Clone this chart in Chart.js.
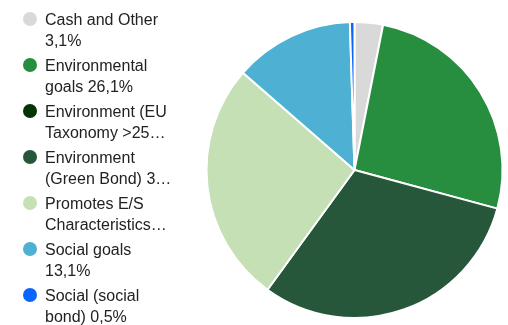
<!DOCTYPE html>
<html>
<head>
<meta charset="utf-8">
<script src="https://cdn.jsdelivr.net/npm/chart.js@4/dist/chart.umd.min.js"></script>
<style>
  html, body { margin: 0; padding: 0; background: #fff; }
  #wrap { position: relative; width: 508px; height: 325px; overflow: hidden; }
  #pie { position: absolute; left: 0; top: 0; }
  #legend { position: absolute; left: 0; top: 0; font-family: "Liberation Sans", Arial, sans-serif; font-size: 16px; color: #222; }
  .item { position: absolute; left: 0; }
  .dot { position: absolute; left: 23px; width: 14px; height: 14px; border-radius: 50%; }
  .txt { position: absolute; left: 45px; white-space: nowrap; line-height: 21px; }
</style>
</head>
<body>
<div id="wrap">
  <canvas id="pie" width="508" height="325"></canvas>
  <div id="legend"></div>
</div>
<script>
// Portfolio breakdown by investment objective (percent of assets)
const categories = [
  'Cash and Other',
  'Environmental goals',
  'Environment (EU Taxonomy >25%)',
  'Environment (Green Bond)',
  'Promotes E/S Characteristics',
  'Social goals',
  'Social (social bond)'
];
const shares = [3.1, 26.1, 0.0, 30.8, 26.4, 13.1, 0.5];

const sliceColors = ['#d9d9d9', '#278d3f', '#043305', '#26573a', '#c6e0b5', '#4eb0d3', '#0a64ff'];

const fmt = v => v.toFixed(1).replace('.', ',') + '%';

// Legend: wrap each label to two lines and end an overflowing second line with an ellipsis
const FONT = '16px "Liberation Sans", Arial, sans-serif';
const MAX_W = 130;
const mctx = document.createElement('canvas').getContext('2d');
mctx.font = FONT;
const w = s => mctx.measureText(s).width;

function wrapTwoLines(text) {
  const words = text.split(' ');
  let line1 = words[0];
  let i = 1;
  while (i < words.length && w(line1 + ' ' + words[i]) <= MAX_W) {
    line1 += ' ' + words[i];
    i++;
  }
  let rest = words.slice(i).join(' ');
  if (!rest) return [line1];
  if (w(rest) <= MAX_W) return [line1, rest];
  let cut = rest;
  while (cut.length && w(cut.trimEnd() + '\u2026') > MAX_W) cut = cut.slice(0, -1);
  return [line1, cut.trimEnd() + '\u2026'];
}

const legend = document.getElementById('legend');
const FIRST_TOP = 9, PITCH = 46;
categories.forEach((name, k) => {
  const item = document.createElement('div');
  item.className = 'item';
  item.style.top = (FIRST_TOP + k * PITCH) + 'px';
  const dot = document.createElement('div');
  dot.className = 'dot';
  dot.style.top = '3px';
  dot.style.background = sliceColors[k];
  const txt = document.createElement('div');
  txt.className = 'txt';
  txt.style.top = '0px';
  wrapTwoLines(name + ' ' + fmt(shares[k])).forEach(l => {
    const d = document.createElement('div');
    d.textContent = l;
    txt.appendChild(d);
  });
  item.appendChild(dot);
  item.appendChild(txt);
  legend.appendChild(item);
});

new Chart(document.getElementById('pie').getContext('2d'), {
  type: 'pie',
  data: {
    labels: categories,
    datasets: [{
      data: shares,
      backgroundColor: sliceColors,
      borderColor: '#ffffff',
      borderWidth: 2,
      hoverOffset: 0
    }]
  },
  options: {
    responsive: false,
    animation: false,
    events: [],
    layout: { padding: { left: 201, right: 0, top: 21, bottom: 6 } },
    plugins: {
      legend: { display: false },
      tooltip: { enabled: false }
    }
  }
});
</script>
</body>
</html>
